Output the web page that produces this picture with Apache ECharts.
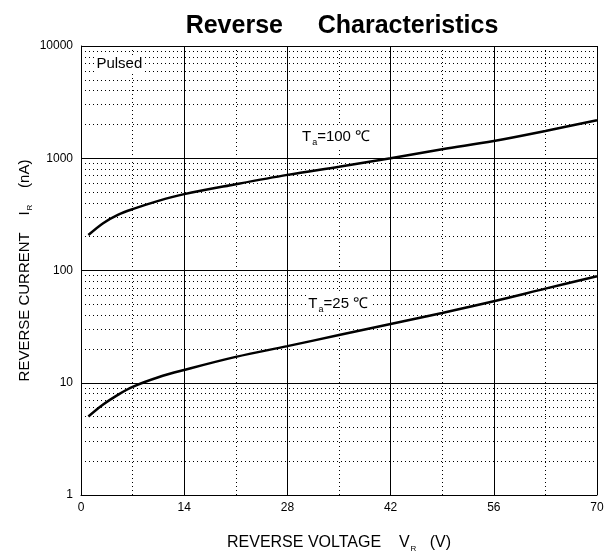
<!DOCTYPE html>
<html>
<head>
<meta charset="utf-8">
<title>Reverse Characteristics</title>
<script src="https://cdn.jsdelivr.net/npm/echarts@6/dist/echarts.min.js"></script>
<style>
  html, body { margin: 0; padding: 0; background: #fff; }
  #chart { width: 605px; height: 552px; }
</style>
</head>
<body>
<div id="chart"></div>
<script>
// Values (V in volts, I in nA)
const voltage = [1, 3, 5, 7, 10.5, 14, 21, 28, 35, 42, 49, 56, 63, 70];
const current100C = [207, 264, 313, 352, 417, 479, 587, 711, 841, 1000, 1202, 1425, 1750, 2177];
const current25C = [5.0, 6.4, 7.8, 9.2, 11.2, 13.0, 17.0, 21.2, 26.6, 33.4, 41.9, 53.2, 68.9, 89];

const xTicks = [0, 14, 28, 42, 56, 70];
const yDecades = [1, 10, 100, 1000, 10000];
const minorSteps = [2, 3, 4, 5, 6, 7, 8, 9];

const FONT = 'Liberation Sans, Arial, sans-serif';

// Build dotted minor grid lines (2..9 per decade) for the log axis
const minorGrid = [];
yDecades.slice(0, -1).forEach(d => {
    minorSteps.forEach(m => minorGrid.push({ yAxis: d * m }));
});

function toPairs(ys) {
    return voltage.map((v, i) => [v, ys[i]]);
}

// rich styles for text + subscript
function richText(size, subSize, subPad) {
    return {
        t: { fontFamily: FONT, fontSize: size, color: '#000' },
        s: { fontFamily: FONT, fontSize: subSize, color: '#000', padding: [subPad, 0, 0, 1] }
    };
}

const chart = echarts.init(document.getElementById('chart'));

const options = {
    animation: false,
    backgroundColor: '#fff',
    title: {
        text: 'Reverse     Characteristics',
        left: 337,
        textAlign: 'center',
        top: 9,
        textStyle: { fontFamily: FONT, fontSize: 25, fontWeight: 'bold', color: '#000' }
    },
    grid: { left: 81, right: 8, top: 46, bottom: 57, outerBoundsMode: 'none' },
    xAxis: {
        type: 'value',
        min: 0,
        max: 70,
        interval: 14,
        name: '{t|REVERSE VOLTAGE    V}{s|R}{t|   (V)}',
        nameLocation: 'middle',
        nameGap: 38,
        nameMoveOverlap: false,
        nameTextStyle: { rich: richText(16, 8, 12) },
        axisLine: { lineStyle: { color: '#000', width: 1 } },
        axisTick: { show: false },
        axisLabel: {
            fontFamily: FONT, fontSize: 12, color: '#000', margin: 7,
            customValues: xTicks
        },
        splitLine: { show: true, lineStyle: { color: '#000', width: 1 } },
        minorTick: { show: false, splitNumber: 2 },
        minorSplitLine: { show: true, lineStyle: { color: '#000', width: 1, type: [1, 3] } }
    },
    yAxis: {
        type: 'log',
        logBase: 10,
        min: 1,
        max: 10000,
        name: '{t|REVERSE CURRENT    I}{s|R}{t|    (nA)}',
        nameLocation: 'middle',
        nameGap: 47,
        nameMoveOverlap: false,
        nameTextStyle: { rich: richText(15, 8, 11) },
        axisLine: { show: true, lineStyle: { color: '#000', width: 1 } },
        axisTick: { show: false },
        axisLabel: {
            fontFamily: FONT, fontSize: 12, color: '#000', margin: 8,
            formatter: v => String(v)
        },
        splitLine: { show: true, lineStyle: { color: '#000', width: 1 } }
    },
    series: [
        {
            name: 'Ta=100',
            type: 'line',
            data: toPairs(current100C),
            smooth: 0.35,
            showSymbol: false,
            lineStyle: { color: '#000', width: 2.5 },
            markLine: {
                silent: true,
                symbol: 'none',
                label: { show: false },
                lineStyle: { color: '#000', width: 1, type: [1, 3] },
                data: minorGrid
            },
            markPoint: {
                symbol: 'circle',
                symbolSize: 0,
                label: {
                    show: true,
                    position: 'inside',
                    formatter: '{t|T}{s|a}{t|=100 ℃}',
                    backgroundColor: '#fff',
                    padding: [1, 2],
                    rich: richText(15, 9, 11)
                },
                data: [
                    { coord: [34.6, 1546] },
                    {
                        coord: [5.2, 6990],
                        label: {
                            formatter: 'Pulsed',
                            fontFamily: FONT, fontSize: 15, color: '#000',
                            backgroundColor: '#fff', padding: [1, 1]
                        }
                    }
                ]
            }
        },
        {
            name: 'Ta=25',
            type: 'line',
            data: toPairs(current25C),
            smooth: 0.35,
            showSymbol: false,
            lineStyle: { color: '#000', width: 2.5 },
            markPoint: {
                symbol: 'circle',
                symbolSize: 0,
                label: {
                    show: true,
                    position: 'inside',
                    formatter: '{t|T}{s|a}{t|=25 ℃}',
                    backgroundColor: '#fff',
                    padding: [1, 2],
                    rich: richText(15, 9, 11)
                },
                data: [{ coord: [34.9, 50.5] }]
            }
        }
    ]
};

chart.setOption(options);
</script>
</body>
</html>
